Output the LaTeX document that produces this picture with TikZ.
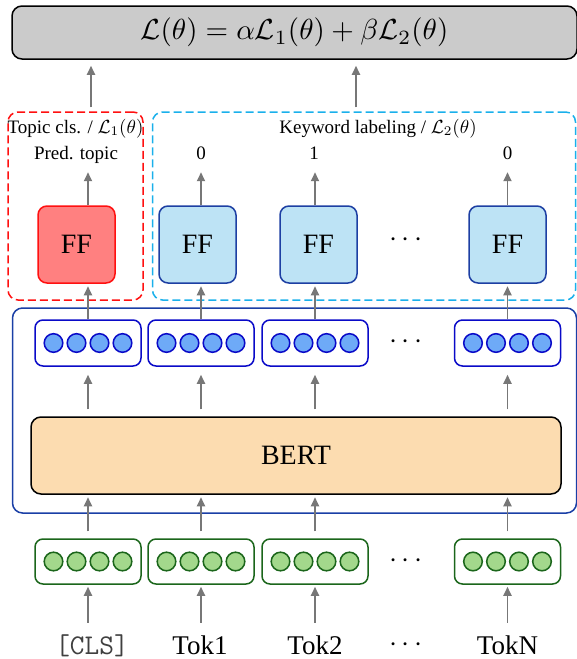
\documentclass[tikz,border=0pt]{standalone}
\usepackage{graphicx}
\usepackage{fontspec}
\setmainfont{Liberation Serif}
\usetikzlibrary{arrows.meta,calc}
\definecolor{lossgray}{HTML}{CBCBCB}
\definecolor{arrgray}{HTML}{777777}
\definecolor{redfill}{HTML}{FF8080}
\definecolor{redline}{HTML}{FF1010}
\definecolor{ffblue}{HTML}{BDE3F5}
\definecolor{ffblueline}{HTML}{1D3FA3}
\definecolor{vecline}{HTML}{0A0AC8}
\definecolor{vecfill}{HTML}{6EAAF7}
\definecolor{bertfill}{HTML}{FCDCB0}
\definecolor{grnfill}{HTML}{A3D88C}
\definecolor{grnline}{HTML}{1B661B}
\definecolor{cyanline}{HTML}{1AB0EB}
\definecolor{bigblue}{HTML}{1A3FA6}
\definecolor{clsgray}{HTML}{404040}
\begin{document}
\begin{tikzpicture}[x=1pt,y=-1pt,
  arr/.style={draw=arrgray,line width=1.8,-{Triangle[length=9,width=8]}},
  lossbox/.style={draw=black,fill=lossgray,line width=1.5,rounded corners=10,minimum width=565,minimum height=53,inner sep=0},
  dashbox/.style={line width=1.5,dash pattern=on 8pt off 4pt,rounded corners=10,inner sep=0},
  ffred/.style={draw=redline,fill=redfill,line width=1.5,rounded corners=9,minimum width=77,minimum height=77,inner sep=0,font=\fontsize{28}{32}\selectfont},
  ffblu/.style={draw=ffblueline,fill=ffblue,line width=1.5,rounded corners=9,minimum width=77,minimum height=77,inner sep=0,font=\fontsize{28}{32}\selectfont},
  vecbox/.style={draw=vecline,line width=1.5,rounded corners=8,minimum width=106,minimum height=46,inner sep=0,fill=white},
  embbox/.style={draw=grnline,line width=1.5,rounded corners=8,minimum width=106,minimum height=45,inner sep=0,fill=white},
  vcirc/.style={draw=vecline,fill=vecfill,line width=1.5},
  gcirc/.style={draw=grnline,fill=grnfill,line width=1.5},
  lbl/.style={inner sep=0,anchor=base},
  tok/.style={font=\fontsize{27}{30}\selectfont,inner sep=0,anchor=base,text height=18pt,text depth=5pt},
  dotsn/.style={inner sep=0}
]
\useasboundingbox (0,0) rectangle (577,659);

% loss box
\node[lossbox] (loss) at (294.5,32.5) {\scalebox{2.9}{$\mathcal{L}(\theta) = \alpha\mathcal{L}_1(\theta) + \beta\mathcal{L}_2(\theta)$}};

% dashed task groups
\node[dashbox,draw=redline,minimum width=135,minimum height=188] (topicbox) at (75.5,206) {};
\node[dashbox,draw=cyanline,minimum width=423,minimum height=188] (kwbox) at (364,206) {};

% encoder box
\node[draw=bigblue,line width=1.5,rounded corners=10,minimum width=564,minimum height=205,inner sep=0] (enc) at (294.5,410.5) {};

% BERT
\node[draw=black,fill=bertfill,line width=1.5,rounded corners=10,minimum width=530,minimum height=77,inner sep=0,font=\fontsize{28}{32}\selectfont] (bert) at (296,455.5) {BERT};

% contextual vectors
\node[vecbox] (h0) at (88,343) {};
\node[vecbox] (h1) at (201,343) {};
\node[vecbox] (h2) at (315,343) {};
\node[vecbox] (hN) at (507.5,343) {};
\node[dotsn] (hdots) at (406,342) {\scalebox{2.9}{$\cdots$}};

% input embeddings
\node[embbox] (e0) at (88,561.5) {};
\node[embbox] (e1) at (201,561.5) {};
\node[embbox] (e2) at (315,561.5) {};
\node[embbox] (eN) at (507.5,561.5) {};
\node[dotsn] (edots) at (406,561) {\scalebox{2.9}{$\cdots$}};

\foreach \n in {h0,h1,h2,hN}{
  \foreach \dx in {-34.5,-11.5,11.5,34.5}{
    \draw[vcirc] ($(\n.center)+(\dx,0)$) circle[radius=9.3];
  }
}
\foreach \n in {e0,e1,e2,eN}{
  \foreach \dx in {-34.5,-11.5,11.5,34.5}{
    \draw[gcirc] ($(\n.center)+(\dx,0)$) circle[radius=9.3];
  }
}

% FF heads
\node[ffred] (ff0) at (76.5,244.5) {FF};
\node[ffblu] (ff1) at (197.5,244.5) {FF};
\node[ffblu] (ff2) at (318.5,244.5) {FF};
\node[ffblu] (ffN) at (507.5,244.5) {FF};
\node[dotsn] (ffdots) at (406,240) {\scalebox{2.9}{$\cdots$}};

% labels
\node[lbl] (lt) at (75.5,133) {\scalebox{1.9}{Topic cls. / $\mathcal{L}_1(\theta)$}};
\node[lbl] (lk) at (378,133) {\scalebox{1.9}{Keyword labeling / $\mathcal{L}_2(\theta)$}};
\node[lbl] (pt) at (76,159) {\scalebox{1.9}{\vphantom{Pp}Pred. topic}};
\node[lbl] (o1) at (201,159) {\scalebox{1.9}{\vphantom{Pp}0}};
\node[lbl] (o2) at (314,159) {\scalebox{1.9}{\vphantom{Pp}1}};
\node[lbl] (oN) at (507.5,159) {\scalebox{1.9}{\vphantom{Pp}0}};

% tokens
\node[tok] (t0) at (92,654) {\fontsize{28.5}{32}\selectfont\ttfamily\color{clsgray}[CLS]};
\node[tok] (t1) at (200,654) {Tok1};
\node[tok] (t2) at (315,654) {Tok2};
\node[tok] (tN) at (507.5,654) {TokN};
\node[dotsn] (tdots) at (406,645) {\scalebox{2.9}{$\cdots$}};

% arrows: tokens -> embeddings
\foreach \t/\e in {t0/e0,t1/e1,t2/e2,tN/eN}{
  \draw[arr,shorten <=13,shorten >=2] (\t.north -| \e.north) -- (\e.south);
}
% embeddings -> BERT
\foreach \e in {e0,e1,e2,eN}{
  \draw[arr,shorten <=7,shorten >=2.5] (\e.north) -- (\e.north |- bert.south);
}
% BERT -> contextual vectors
\foreach \h in {h0,h1,h2,hN}{
  \draw[arr,shorten <=7,shorten >=8] (\h.south |- bert.north) -- (\h.south);
}
% contextual vectors -> FF
\foreach \h/\f in {h0/ff0,h1/ff1,h2/ff2,hN/ffN}{
  \draw[arr,shorten >=2.5] (\h.north) -- (\h.north |- \f.south);
}
% FF -> outputs
\foreach \h/\f/\o in {h0/ff0/pt,h1/ff1/o1,h2/ff2/o2,hN/ffN/oN}{
  \draw[arr,shorten >=9] (\h.north |- \f.north) -- (\h.north |- \o.south);
}
% task groups -> loss
\draw[arr,shorten <=4,shorten >=6] ([xshift=15.5]topicbox.north) -- ([xshift=15.5]topicbox.north |- loss.south);
\draw[arr,shorten <=4,shorten >=6] ([xshift=-8]kwbox.north) -- ([xshift=-8]kwbox.north |- loss.south);
\end{tikzpicture}
\end{document}
